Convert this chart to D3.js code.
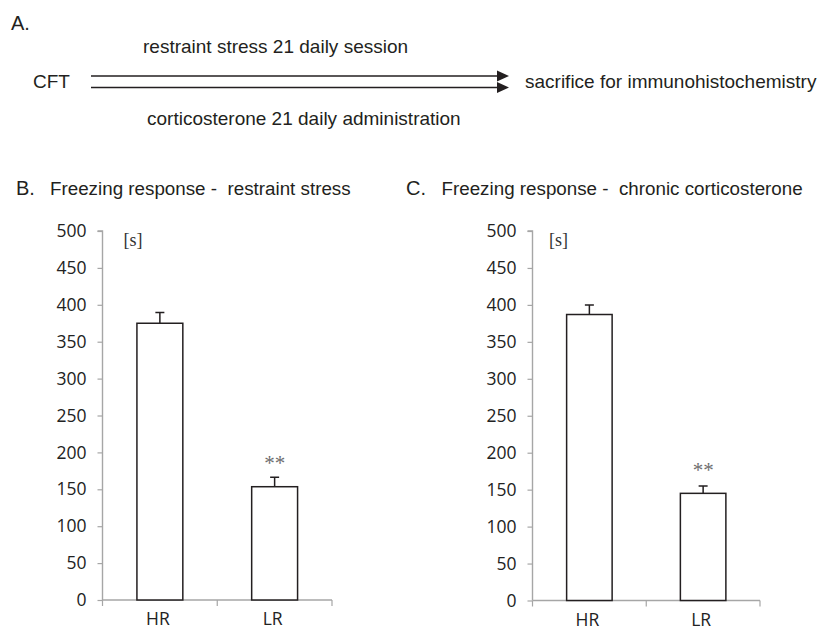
<!DOCTYPE html>
<html>
<head>
<meta charset="utf-8">
<script src="https://cdn.jsdelivr.net/npm/d3@7"></script>
<style>
  html, body { margin: 0; padding: 0; background: #fff; }
  svg { display: block; }
</style>
</head>
<body>
<script>
// data
var categories = ['HR', 'LR'];
var stressMeans = [375, 153.5];     // B. restraint stress
var stressErrors = [14.5, 12.8];
var corticoMeans = [387, 145];      // C. chronic corticosterone
var corticoErrors = [12.8, 10];
var yTicks = [0, 50, 100, 150, 200, 250, 300, 350, 400, 450, 500];
var stars = ['', '**'];

var w = 823, h = 631;
var sans = 'Liberation Sans, Arial, sans-serif',
	serif = 'Liberation Serif, Times New Roman, serif',
	tickFont = 'Open Sans, Calibri, sans-serif';

var svg = d3.select('body').append('svg')
	.attr('width', w)
	.attr('height', h);

// ---- A. protocol diagram ----
var a = svg.append('g').attr('font-family', sans).attr('fill', '#231f20');

a.append('text').attr('x', 11).attr('y', 30).attr('font-size', 20).text('A.');
a.append('text').attr('x', 143).attr('y', 53).attr('font-size', 19)
	.text('restraint stress 21 daily session');
a.append('text').attr('x', 33).attr('y', 88).attr('font-size', 19).text('CFT');
a.append('text').attr('x', 525).attr('y', 88).attr('font-size', 19)
	.text('sacrifice for immunohistochemistry');
a.append('text').attr('x', 147).attr('y', 125).attr('font-size', 19)
	.text('corticosterone 21 daily administration');

[76, 87.5].forEach(function(yy) {
	a.append('line')
		.attr('x1', 91).attr('x2', 499)
		.attr('y1', yy).attr('y2', yy)
		.attr('stroke', '#231f20').attr('stroke-width', 1.5);
	a.append('path')
		.attr('d', 'M497,' + (yy - 5.5) + 'L509,' + yy + 'L497,' + (yy + 5.5) + 'Z')
		.attr('fill', '#231f20');
});

// ---- bar panels ----
function panel(opt) {
	var g = svg.append('g');

	var x = d3.scaleBand()
		.domain(categories)
		.range([opt.x0, opt.x1])
		.paddingInner(0)
		.paddingOuter(0);

	var y = d3.scaleLinear()
		.domain([0, 500])
		.range([opt.y0, opt.y1]);

	var barW = x.bandwidth() * 0.4;

	// title
	g.append('text')
		.attr('x', opt.tx).attr('y', 195)
		.attr('font-family', sans).attr('font-size', 20).attr('fill', '#231f20')
		.text(opt.letter);
	g.append('text')
		.attr('x', opt.tx2).attr('y', 195)
		.attr('font-family', sans).attr('font-size', 18.8).attr('fill', '#231f20')
		.attr('xml:space', 'preserve')
		.text(opt.title);

	// y axis
	var yAxis = d3.axisLeft(y)
		.tickValues(yTicks)
		.tickSize(5)
		.tickPadding(11);
	var ya = g.append('g')
		.attr('transform', 'translate(' + opt.x0 + ',0)')
		.call(yAxis);
	ya.select('.domain').attr('stroke', '#a6a6a6').attr('stroke-width', 1.4)
		.attr('d', 'M-5,' + y(500) + 'H0V' + y(0));
	ya.selectAll('.tick line').attr('stroke', '#a6a6a6').attr('stroke-width', 1.2);
	ya.selectAll('.tick text')
		.attr('font-family', tickFont).attr('font-size', 17.5).attr('fill', '#222');

	// x axis (ticks at category boundaries)
	g.append('line')
		.attr('x1', opt.x0).attr('x2', opt.x1)
		.attr('y1', y(0)).attr('y2', y(0))
		.attr('stroke', '#a6a6a6').attr('stroke-width', 1.4);
	g.selectAll('.xtick')
		.data(categories.concat(['end']))
		.enter().append('line')
		.attr('class', 'xtick')
		.attr('x1', function(d) { return d === 'end' ? opt.x1 : x(d); })
		.attr('x2', function(d) { return d === 'end' ? opt.x1 : x(d); })
		.attr('y1', y(0)).attr('y2', y(0) + 6)
		.attr('stroke', '#a6a6a6').attr('stroke-width', 1.2);

	g.selectAll('.xlabel')
		.data(categories)
		.enter().append('text')
		.attr('class', 'xlabel')
		.attr('x', function(d) { return x(d) + x.bandwidth() / 2 - 2; })
		.attr('y', opt.labelY)
		.attr('text-anchor', 'middle')
		.attr('font-family', tickFont).attr('font-size', 17.5).attr('fill', '#222')
		.text(function(d) { return d; });

	var data = categories.map(function(c, i) {
		return { cat: c, v: opt.means[i], e: opt.errors[i], star: stars[i] };
	});

	// error bars (upper only)
	g.selectAll('.err')
		.data(data)
		.enter().append('path')
		.attr('class', 'err')
		.attr('d', function(d) {
			var cx = x(d.cat) + x.bandwidth() / 2;
			return 'M' + cx + ',' + y(d.v) + 'V' + y(d.v + d.e) +
				'M' + (cx - 4.5) + ',' + y(d.v + d.e) + 'H' + (cx + 4.5);
		})
		.attr('fill', 'none').attr('stroke', '#231f20').attr('stroke-width', 1.5);

	// bars
	g.selectAll('.bar')
		.data(data)
		.enter().append('rect')
		.attr('class', 'bar')
		.attr('x', function(d) { return x(d.cat) + (x.bandwidth() - barW) / 2; })
		.attr('y', function(d) { return y(d.v); })
		.attr('width', barW)
		.attr('height', function(d) { return y(0) - y(d.v); })
		.attr('fill', '#fff').attr('stroke', '#231f20').attr('stroke-width', 1.5);

	// significance stars
	g.selectAll('.star')
		.data(data)
		.enter().append('text')
		.attr('class', 'star')
		.attr('x', function(d) { return x(d.cat) + x.bandwidth() / 2; })
		.attr('y', function(d) { return y(d.v + d.e) - opt.starGap; })
		.attr('text-anchor', 'middle')
		.attr('font-family', serif).attr('font-size', 21).attr('fill', '#6e6e6e')
		.text(function(d) { return d.star; });

	// unit
	g.append('text')
		.attr('x', opt.x0 + opt.unitDx).attr('y', 246)
		.attr('font-family', serif).attr('font-size', 18).attr('fill', '#333')
		.text('[s]');
}

panel({
	letter: 'B.', title: 'Freezing response -  restraint stress',
	tx: 16, tx2: 50,
	x0: 102.5, x1: 332, y0: 600, y1: 231,
	means: stressMeans, errors: stressErrors,
	labelY: 625, starGap: 7, unitDx: 21
});

panel({
	letter: 'C.', title: 'Freezing response -  chronic corticosterone',
	tx: 406, tx2: 441.5,
	x0: 532.5, x1: 760, y0: 600.5, y1: 231,
	means: corticoMeans, errors: corticoErrors,
	labelY: 626, starGap: 9, unitDx: 16.5
});
</script>
</body>
</html>
